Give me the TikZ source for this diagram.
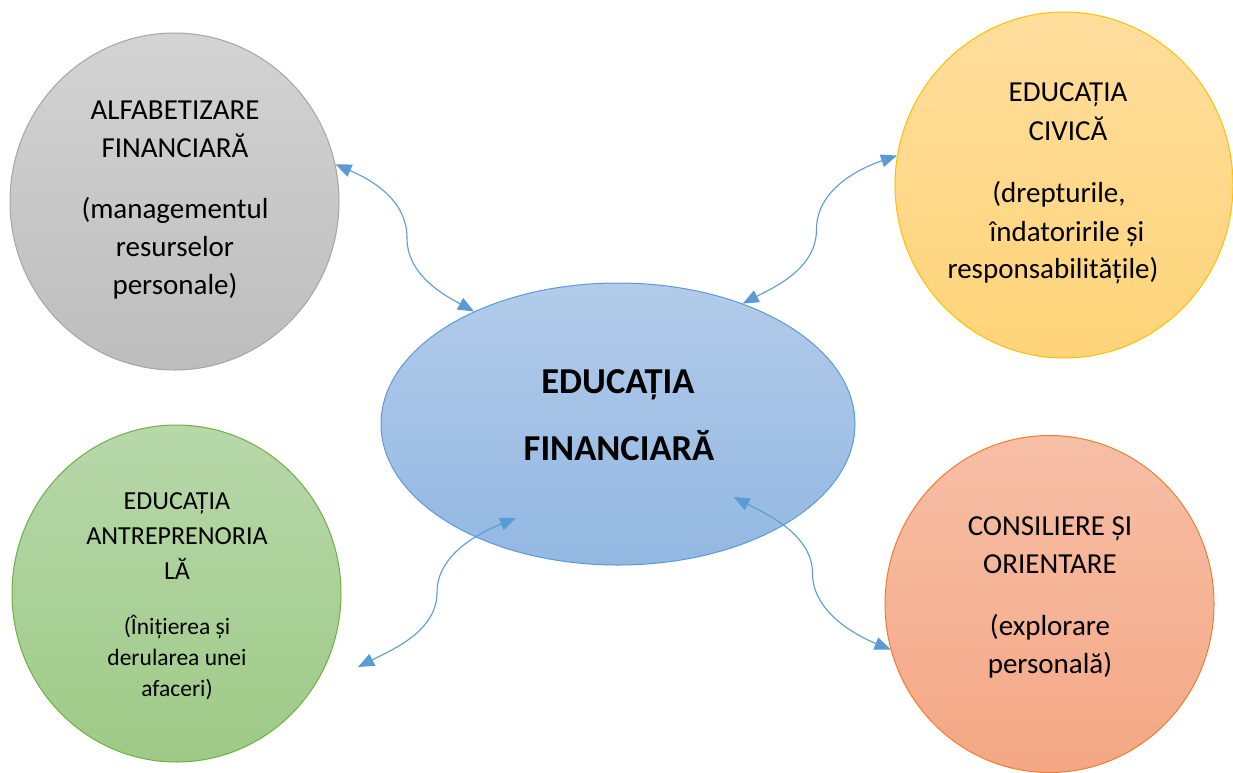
\documentclass[tikz,border=0pt]{standalone}
\usepackage{fontspec}
\setmainfont{Carlito}
\usetikzlibrary{shapes.geometric,arrows.meta,calc}
\definecolor{graytop}{HTML}{D3D3D3}
\definecolor{graybot}{HTML}{BDBDBD}
\definecolor{grayline}{HTML}{A5A5A5}
\definecolor{yeltop}{HTML}{FFDD9C}
\definecolor{yelbot}{HTML}{FFD479}
\definecolor{yelline}{HTML}{FFC000}
\definecolor{bluetop}{HTML}{B2CBEA}
\definecolor{bluebot}{HTML}{93B8E2}
\definecolor{blueline}{HTML}{5B9BD5}
\definecolor{greentop}{HTML}{B7D8AA}
\definecolor{greenbot}{HTML}{9ECA86}
\definecolor{greenline}{HTML}{70AD47}
\definecolor{orgtop}{HTML}{F7BFA7}
\definecolor{orgbot}{HTML}{F4A784}
\definecolor{orgline}{HTML}{ED7D31}
\definecolor{arrowblue}{HTML}{5B9BD5}
\begin{document}
\begin{tikzpicture}[x=1pt,y=-1pt,
  bubble/.style={ellipse, inner sep=0pt, line width=1pt},
  circ/.style={bubble, minimum width=329pt, minimum height=337pt},
  txt/.style={anchor=base, inner sep=0pt, font=\fontsize{29}{35}\selectfont},
  txtg/.style={anchor=base, inner sep=0pt, font=\fontsize{26}{31}\selectfont},
  txts/.style={anchor=base, inner sep=0pt, font=\fontsize{23.5}{28}\selectfont},
  txtb/.style={anchor=base, inner sep=0pt, font=\fontsize{36.5}{44}\selectfont\bfseries},
  conn/.style={draw=arrowblue, line width=1.1pt,
    {Triangle[length=16pt,width=13pt]}-{Triangle[length=16pt,width=13pt]}}
]
\useasboundingbox (0,0) rectangle (1233,772);

% bubbles
\node[circ, draw=grayline, top color=graytop, bottom color=graybot] (gray) at (174.5,201.5) {};
\node[bubble, draw=yelline, top color=yeltop, bottom color=yelbot,
      minimum width=338pt, minimum height=346pt] (yellow) at (1064,185) {};
\node[circ, draw=greenline, top color=greentop, bottom color=greenbot] (green) at (176.5,593.5) {};
\node[circ, draw=orgline, top color=orgtop, bottom color=orgbot] (orange) at (1049.5,604) {};
\node[bubble, draw=blueline, top color=bluetop, bottom color=bluebot,
      minimum width=474pt, minimum height=282pt] (blue) at (618,424) {};

% connector end points
\coordinate (g3) at ($(green)+(181.5,73.5)$);
\coordinate (b3) at ($(blue)+(-102,94)$);
\coordinate (b4) at ($(blue)+(115.5,73)$);

% connectors
\draw[conn] (gray.13) .. controls (372,180) and (407,200) .. (407,238)
            .. controls (407,276) and (446,296) .. (blue.142);
\draw[conn] (blue.44) .. controls (777,286) and (816.5,267.5) .. (816.5,229.5)
            .. controls (816.5,191.5) and (855,170) .. (yellow.170);
\draw[conn] (g3) .. controls (394,649) and (437,630.5) .. (437,592.5)
            .. controls (437,554.5) and (479,533) .. (b3);
\draw[conn] (b4) .. controls (769,515) and (812.5,535.5) .. (812.5,573.5)
            .. controls (812.5,611.5) and (855,635) .. (orange.196);

% texts: gray
\node[txt] (g1) at (175,119) {ALFABETIZARE};
\node[txt] (g2) at (175,157) {FINANCIARĂ};
\node[txt] (gp1) at (175,218) {(managementul};
\node[txt] (gp2) at (175,256) {resurselor};
\node[txt] (gp3) at (175,294) {personale)};
% yellow
\node[txt] (y1) at (1068,101) {EDUCAȚIA};
\node[txt] (y2) at (1068,140) {CIVICĂ};
\node[txt] (yp1) at (1059,202) {(drepturile,};
\node[txt] (yp2) at (1067,241) {îndatoririle și};
\node[txt] (yp3) at (1053,278) {responsabilitățile)};
% green
\node[txtg] (e1) at (177,509) {EDUCAȚIA};
\node[txtg] (e2) at (177,544) {ANTREPRENORIA};
\node[txtg] (e3) at (177,579) {LĂ};
\node[txts] (ep1) at (177,634) {(Înițierea și};
\node[txts] (ep2) at (177,665) {derularea unei};
\node[txts] (ep3) at (177,696) {afaceri)};
% orange
\node[txt] (o1) at (1050,535) {CONSILIERE ȘI};
\node[txt] (o2) at (1050,573) {ORIENTARE};
\node[txt] (op1) at (1050,635) {(explorare};
\node[txt] (op2) at (1050,673) {personală)};
% blue
\node[txtb] (c1) at (618,393) {EDUCAȚIA};
\node[txtb] (c2) at (619,460) {FINANCIARĂ};
\end{tikzpicture}
\end{document}
